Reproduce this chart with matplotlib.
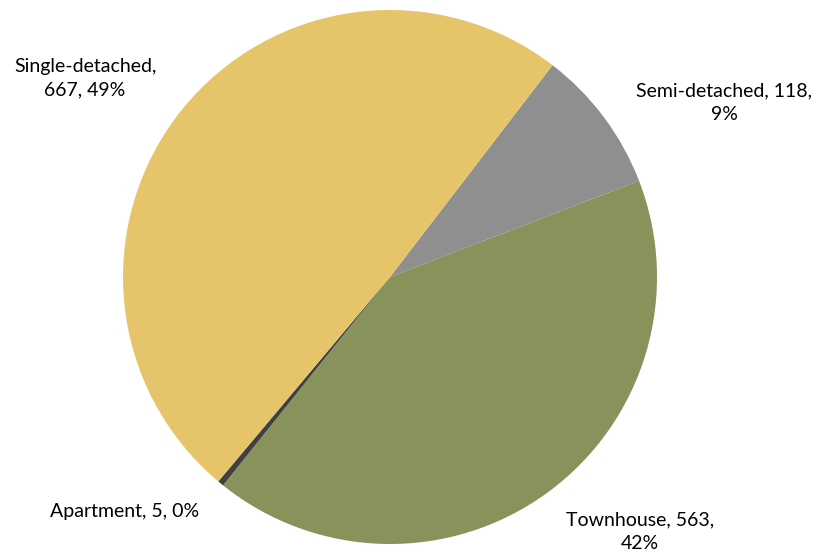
import matplotlib
matplotlib.use("Agg")
import matplotlib.pyplot as plt

# dwelling types, counts
categories = ["Semi-detached", "Townhouse", "Apartment", "Single-detached"]
counts = [118, 563, 5, 667]
colors = ["#8F8F8F", "#87935B", "#404040", "#E6C56A"]

total = sum(counts)
pcts = [round(c / total * 100) for c in counts]

fig = plt.figure(figsize=(8.19, 5.54), dpi=100)
# pie centre ~ (390, 277) px, radius ~ 267 px
ax = fig.add_axes([(390 - 267) / 819, 10 / 554, 534 / 819, 534 / 554])
ax.pie(counts, colors=colors, startangle=52.5, counterclock=False,
       radius=1.0, wedgeprops=dict(linewidth=0))
ax.set_xlim(-1, 1)
ax.set_ylim(-1, 1)
ax.set_aspect("equal")
ax.axis("off")

lbl = {c: f"{c}, {n}, {p}%" for c, n, p in zip(categories, counts, pcts)}
# label positions in data units (radius = 1)
txt = dict(fontsize=14, family="Lato", color="#000000", ha="center", va="center",
           linespacing=1.5, clip_on=False)
ax.text(-1.142, 0.745, f"Single-detached,\n{counts[3]}, {pcts[3]}%", **txt)
ax.text(1.251, 0.652, f"Semi-detached, {counts[0]},\n{pcts[0]}%", **txt)
ax.text(0.936, -0.955, f"Townhouse, {counts[1]},\n{pcts[1]}%", **txt)
ax.text(-0.993, -0.880, lbl["Apartment"], **txt)

fig.savefig("out.png", dpi=100)
